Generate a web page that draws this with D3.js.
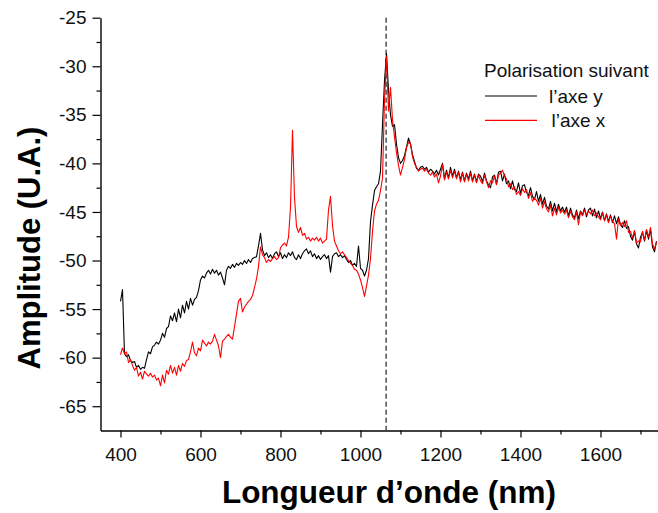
<!DOCTYPE html>
<html>
<head>
<meta charset="utf-8">
<script src="https://cdn.jsdelivr.net/npm/d3@7"></script>
<style>
  body { margin: 0; background: #fff; }
  svg { display: block; }
  text { font-family: "Liberation Sans", Arial, Helvetica, sans-serif; }
</style>
</head>
<body>
<svg id="chart" width="658" height="513"></svg>
<script>
// Spectra sampled every 5 nm from 400 to 1740 nm
const wavelengths = d3.range(400, 1741, 5);

// Polarisation along the y axis (dB, arbitrary units)
const axeY = [
  -54.2, -53.0, -59.6, -59.9, -59.7, -60.3, -60.5, -60.4, -61.0, -60.8, -61.2, -61.0, -61.1, -60.2, -59.4, -59.6, -58.9, -58.7, -58.4, -58.6,
  -58.2, -57.5, -57.9, -57.0, -56.8, -55.7, -56.2, -55.4, -56.3, -55.0, -55.9, -54.6, -55.4, -54.2, -55.0, -53.9, -54.6, -54.0, -53.8, -53.1,
  -52.0, -51.6, -51.8, -51.3, -51.0, -51.4, -50.9, -51.3, -51.0, -51.5, -51.2, -51.8, -52.5, -51.0, -50.6, -50.8, -50.4, -50.7, -50.3, -50.5,
  -50.2, -50.4, -50.0, -50.3, -49.9, -50.2, -49.8, -49.7, -49.6, -48.5, -47.2, -48.9, -49.5, -49.2, -49.7, -49.4, -49.8, -49.3, -49.1, -49.6,
  -49.2, -49.8, -49.4, -49.7, -49.2, -49.5, -49.1, -49.7, -49.9, -49.4, -49.8, -49.3, -49.0, -48.8, -49.3, -49.0, -49.6, -49.3, -49.8, -49.5,
  -49.9, -49.6, -49.4, -49.8, -49.5, -51.2, -49.6, -49.3, -49.2, -49.6, -49.4, -49.7, -49.5, -49.9, -50.2, -50.0, -50.5, -50.3, -50.6, -48.5,
  -50.8, -51.0, -51.6, -51.0, -49.8, -46.0, -44.3, -42.8, -42.4, -42.1, -40.8, -36.0, -31.5, -28.7, -32.5, -35.0, -36.2, -36.0, -38.0, -39.4,
  -40.0, -39.7, -39.2, -38.3, -37.4, -38.0, -39.1, -39.8, -40.5, -40.7, -40.4, -40.3, -40.6, -40.4, -40.9, -40.6, -40.8, -41.1, -40.7, -41.2,
  -40.6, -40.0, -41.6, -40.7, -41.5, -40.4, -41.3, -40.6, -41.5, -40.8, -41.7, -40.9, -41.8, -41.0, -41.6, -40.8, -41.8, -41.1, -41.9, -41.1,
  -41.3, -41.9, -41.0, -41.8, -42.2, -42.5, -41.4, -41.2, -42.1, -40.9, -40.8, -41.8, -41.1, -42.1, -41.8, -42.6, -41.8, -42.7, -42.9, -42.0,
  -43.1, -42.3, -42.2, -43.0, -43.3, -42.5, -43.4, -43.7, -42.9, -43.9, -43.2, -44.2, -43.5, -44.4, -44.7, -43.9, -44.9, -44.1, -45.0, -44.2,
  -44.9, -44.5, -45.0, -44.5, -45.4, -44.6, -45.3, -45.6, -44.8, -45.7, -44.9, -45.3, -44.6, -45.5, -44.8, -44.6, -45.4, -44.7, -45.6, -44.9,
  -45.7, -45.0, -45.9, -45.2, -46.0, -45.3, -46.1, -45.4, -46.2, -45.5, -46.3, -46.6, -45.9, -46.7, -46.5, -47.5, -47.9, -47.0, -48.3, -48.7,
  -47.6, -47.1, -48.0, -46.9, -47.8, -46.8, -48.6, -49.1, -48.0
];

// Polarisation along the x axis
const axeX = [
  -59.7, -59.0, -59.6, -59.4, -60.5, -60.2, -60.8, -61.3, -61.0, -61.9, -61.5, -62.2, -61.4, -61.7, -61.9, -61.6, -62.0, -61.8, -62.3, -62.1,
  -62.9, -61.8, -62.6, -61.3, -61.7, -60.8, -61.6, -61.0, -61.8, -60.8, -61.4, -60.6, -60.9, -60.3, -60.2, -59.4, -58.4, -59.5, -59.8, -59.0,
  -59.3, -58.2, -58.5, -58.8, -58.4, -58.6, -58.3, -57.6, -58.2, -58.8, -60.0, -58.3, -58.1, -57.8, -57.6, -57.9, -58.1, -56.8, -55.5, -54.2,
  -53.9, -55.3, -54.8, -54.5, -54.2, -54.0, -53.6, -52.8, -51.9, -50.6, -48.6, -49.4, -49.7, -50.2, -49.9, -50.1, -49.8, -49.6, -49.9, -49.7,
  -48.7, -48.4, -48.2, -48.5, -47.6, -44.5, -36.6, -43.5, -46.5, -47.1, -46.6, -47.4, -47.2, -47.8, -47.6, -48.0, -47.7, -47.9, -47.6, -48.0,
  -47.7, -48.2, -48.0, -47.8, -44.8, -43.4, -46.4, -48.0, -48.5, -49.0, -49.3, -49.1, -49.4, -49.7, -50.0, -50.3, -50.5, -50.9, -51.0, -51.4,
  -52.0, -52.8, -53.7, -52.6, -51.5, -49.8, -47.0, -44.9, -44.2, -43.8, -42.8, -41.5, -33.5, -29.0, -34.6, -32.2, -35.5, -37.3, -38.9, -40.2,
  -41.2, -40.4, -39.6, -38.4, -37.8, -38.0, -39.3, -40.0, -40.4, -40.8, -40.6, -40.5, -40.8, -40.6, -41.0, -41.2, -40.9, -41.4, -41.1, -42.0,
  -41.3, -40.1, -41.7, -40.9, -41.6, -40.7, -41.5, -40.8, -41.6, -40.9, -41.9, -41.0, -41.9, -41.1, -41.8, -41.0, -41.9, -41.2, -42.0, -41.2,
  -41.8, -42.1, -41.2, -41.9, -42.5, -41.8, -42.0, -41.3, -42.2, -41.2, -41.0, -40.7, -41.3, -41.6, -42.4, -42.1, -42.7, -42.4, -43.2, -42.9,
  -43.3, -42.6, -43.0, -42.7, -43.6, -43.0, -43.9, -43.6, -43.8, -44.3, -43.6, -44.6, -43.9, -44.7, -45.0, -44.3, -45.4, -44.6, -45.3, -44.5,
  -45.1, -44.8, -45.2, -44.8, -45.6, -44.9, -45.5, -45.8, -45.0, -46.3, -45.0, -45.4, -44.8, -45.3, -44.9, -45.2, -44.8, -45.4, -45.1, -45.5,
  -45.8, -45.1, -45.9, -45.3, -46.1, -45.4, -46.0, -46.2, -47.8, -45.7, -46.4, -46.1, -46.5, -45.9, -47.1, -47.0, -47.7, -46.9, -48.2, -48.0,
  -48.1, -47.0, -47.9, -46.8, -47.6, -46.6, -48.3, -48.8, -48.1
];

const seriesLabels = ["l’axe y", "l’axe x"];
const seriesColors = ["#000000", "#ff0000"];
const legendTitle = "Polarisation suivant";

const yMajorTicks = [-65, -60, -55, -50, -45, -40, -35, -30, -25];
const yMinorTicks = [-62.5, -57.5, -52.5, -47.5, -42.5, -37.5, -32.5, -27.5];
const xMajorTicks = [400, 600, 800, 1000, 1200, 1400, 1600];
const xMinorTicks = [500, 700, 900, 1100, 1300, 1500, 1700];
const laserWavelength = 1064;

const svg = d3.select("#chart");
const plotLeft = 100.5, plotTop = 17.7, plotBottom = 430.5;

const x = d3.scaleLinear().domain([350, 1745]).range([plotLeft, plotLeft + 558]);
const y = d3.scaleLinear().domain([-67.5, -25]).range([plotBottom, plotTop]);

// Axes
function styleAxis(g) {
  g.select(".domain").attr("stroke", "#000").attr("stroke-width", 1.4);
  g.selectAll(".tick line").attr("stroke", "#000").attr("stroke-width", 1.2);
  g.selectAll(".tick text").attr("fill", "#111").style("font-size", "19px");
}

svg.append("g")
  .attr("transform", `translate(0,${plotBottom})`)
  .call(d3.axisBottom(x).tickValues(xMinorTicks).tickSize(4).tickFormat(""))
  .call(g => g.select(".domain").remove())
  .call(styleAxis);
svg.append("g")
  .attr("transform", `translate(0,${plotBottom})`)
  .call(d3.axisBottom(x).tickValues(xMajorTicks).tickSize(7).tickPadding(10).tickSizeOuter(0).tickFormat(d3.format("d")))
  .call(styleAxis);

svg.append("g")
  .attr("transform", `translate(${plotLeft},0)`)
  .call(d3.axisLeft(y).tickValues(yMinorTicks).tickSize(4).tickFormat(""))
  .call(g => g.select(".domain").remove())
  .call(styleAxis);
svg.append("g")
  .attr("transform", `translate(${plotLeft},0)`)
  .call(d3.axisLeft(y).tickValues(yMajorTicks).tickSize(8).tickPadding(6).tickSizeOuter(0)
    .tickFormat(d => String(d)))
  .call(styleAxis);

// Laser line marker
svg.append("line")
  .attr("x1", x(laserWavelength)).attr("x2", x(laserWavelength))
  .attr("y1", plotTop).attr("y2", plotBottom)
  .attr("stroke", "#333").attr("stroke-width", 1.3)
  .attr("stroke-dasharray", "5,3");

// Spectra
const line = d3.line()
  .x(d => x(d[0]))
  .y(d => y(d[1]));

[axeY, axeX].forEach((vals, i) => {
  svg.append("path")
    .datum(wavelengths.map((w, k) => [w, vals[k]]))
    .attr("fill", "none")
    .attr("stroke", seriesColors[i])
    .attr("stroke-width", 1.1)
    .attr("stroke-linejoin", "round")
    .attr("d", line);
});

// Legend
const legend = svg.append("g");
legend.append("text")
  .attr("x", 484).attr("y", 77)
  .style("font-size", "19px").attr("fill", "#111")
  .text(legendTitle);
seriesLabels.forEach((lab, i) => {
  const ly = 96 + i * 24.3;
  legend.append("line")
    .attr("x1", 485).attr("x2", 537)
    .attr("y1", ly).attr("y2", ly)
    .attr("stroke", seriesColors[i]).attr("stroke-width", 1.2);
  legend.append("text")
    .attr("x", 549 + i * 2.5).attr("y", ly + 6.8)
    .style("font-size", "19px").attr("fill", "#111")
    .text(lab);
});

// Axis titles
svg.append("text")
  .attr("transform", "translate(40,248) rotate(-90)")
  .attr("text-anchor", "middle")
  .style("font-size", "31px").style("font-weight", "bold")
  .text("Amplitude (U.A.)");
svg.append("text")
  .attr("x", 389).attr("y", 503)
  .attr("text-anchor", "middle")
  .style("font-size", "31.5px").style("font-weight", "bold")
  .text("Longueur d’onde (nm)");
</script>
</body>
</html>
